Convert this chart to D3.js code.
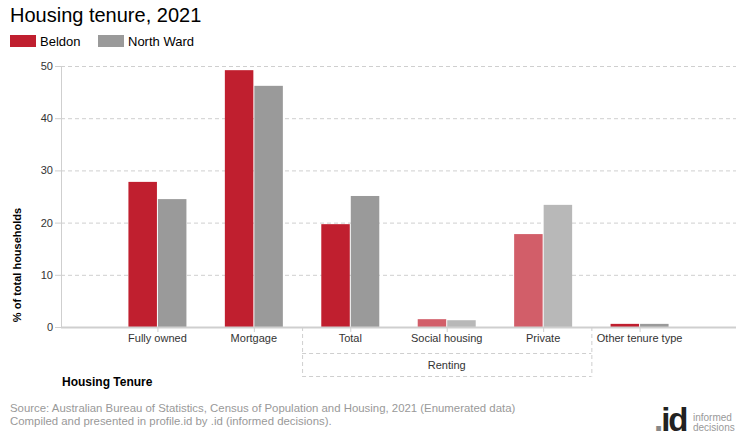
<!DOCTYPE html>
<html><head><meta charset="utf-8">
<script src="https://cdn.jsdelivr.net/npm/d3@7"></script>
<style>body{margin:0;background:#fff;font-family:Arial,"Liberation Sans",sans-serif;}</style>
</head><body>
<svg id="c" width="740" height="440"></svg>
<script>
const categories = ["Fully owned","Mortgage","Total","Social housing","Private","Other tenure type"];
const beldon = [27.8, 49.2, 19.7, 1.5, 17.8, 0.6];
const northWard = [24.5, 46.2, 25.1, 1.3, 23.4, 0.6];
const lighter = [false,false,false,true,true,false];
const yTicks = [0,10,20,30,40,50];
const groupLabel = "Renting";
const groupMembers = ["Total","Social housing","Private"];

const svg = d3.select("#c");
const font = "Arial, 'Liberation Sans', sans-serif";
const L = 61, R = 736, T = 66, B = 327;
const x = d3.scaleBand().domain(categories).range([L, R]).paddingInner(0).paddingOuter(0.5);
const y = d3.scaleLinear().domain([0,50]).range([B, T]);
const barW = 29;

// title
svg.append("text").attr("x",10).attr("y",22).attr("font-family",font).attr("font-size",20).attr("fill","#000").text("Housing tenure, 2021");
// legend
svg.append("rect").attr("x",10).attr("y",35).attr("width",26).attr("height",12).attr("fill","#c01f2f");
svg.append("text").attr("x",40).attr("y",46).attr("font-family",font).attr("font-size",13).attr("fill","#000").text("Beldon");
svg.append("rect").attr("x",98).attr("y",35).attr("width",26).attr("height",12).attr("fill","#9a9a9a");
svg.append("text").attr("x",128).attr("y",46).attr("font-family",font).attr("font-size",13).attr("fill","#000").text("North Ward");

// grid
svg.append("g").selectAll("line").data(yTicks.filter(d=>d>0)).join("line")
  .attr("x1",L).attr("x2",R).attr("y1",d=>y(d)+0.5).attr("y2",d=>y(d)+0.5)
  .attr("stroke","#cfcfcf").attr("stroke-dasharray","4,3");
// y ticks
svg.append("g").selectAll("line").data(yTicks).join("line")
  .attr("x1",L-6).attr("x2",L).attr("y1",d=>y(d)+0.5).attr("y2",d=>y(d)+0.5).attr("stroke","#cfcfcf");
svg.append("g").selectAll("text").data(yTicks).join("text")
  .attr("x",L-8).attr("y",d=>y(d)+4).attr("text-anchor","end").attr("font-family",font).attr("font-size",11).attr("fill","#333").text(d=>d);
// y axis line
svg.append("line").attr("x1",L+0.5).attr("x2",L+0.5).attr("y1",T).attr("y2",B).attr("stroke","#cfcfcf");

// bars
const g = svg.append("g");
categories.forEach((c,i)=>{
  const cx = x(c)+x.bandwidth()/2;
  g.append("rect").attr("x",cx-barW).attr("width",barW-0.5).attr("y",y(beldon[i])).attr("height",B-y(beldon[i]))
    .attr("fill", lighter[i] ? "#d25e69" : "#c01f2f");
  g.append("rect").attr("x",cx+0.5).attr("width",barW-0.5).attr("y",y(northWard[i])).attr("height",B-y(northWard[i]))
    .attr("fill", lighter[i] ? "#b8b8b8" : "#9a9a9a");
});

// x axis line
svg.append("line").attr("x1",L).attr("x2",R).attr("y1",B+0.5).attr("y2",B+0.5).attr("stroke","#cfcfcf").attr("stroke-width",2);
// x ticks at centers
svg.append("g").selectAll("line").data(categories).join("line")
  .attr("x1",d=>x(d)+x.bandwidth()/2+0.5).attr("x2",d=>x(d)+x.bandwidth()/2+0.5).attr("y1",B).attr("y2",B+5).attr("stroke","#cfcfcf");
svg.append("g").selectAll("text").data(categories).join("text")
  .attr("x",d=>x(d)+x.bandwidth()/2).attr("y",342).attr("text-anchor","middle").attr("font-family",font).attr("font-size",11).attr("fill","#333").text(d=>d);

// group box
const gx0 = x(groupMembers[0]), gx1 = x(groupMembers[groupMembers.length-1])+x.bandwidth();
const dash = {"stroke":"#cfcfcf","stroke-dasharray":"4,3"};
function dl(x1,y1,x2,y2){const l=svg.append("line").attr("x1",x1).attr("y1",y1).attr("x2",x2).attr("y2",y2).attr("fill","none");for(const k in dash) l.attr(k,dash[k]);}
dl(gx0+0.5,B,gx0+0.5,376.5);
dl(gx1+0.5,B,gx1+0.5,376.5);
dl(gx0,353.5,gx1,353.5);
dl(gx0,376.5,gx1,376.5);
svg.append("text").attr("x",(gx0+gx1)/2).attr("y",369).attr("text-anchor","middle").attr("font-family",font).attr("font-size",11).attr("fill","#333").text(groupLabel);

// axis titles
svg.append("text").attr("x",62).attr("y",386).attr("font-family",font).attr("font-size",12).attr("font-weight","bold").attr("fill","#000").text("Housing Tenure");
svg.append("text").attr("transform","translate(21,265) rotate(-90)").attr("text-anchor","middle").attr("font-family",font).attr("font-size",11).attr("font-weight","bold").attr("fill","#000").text("% of total households");

// footer
svg.append("text").attr("x",10).attr("y",412).attr("font-family",font).attr("font-size",11.4).attr("fill","#999").text("Source: Australian Bureau of Statistics, Census of Population and Housing, 2021 (Enumerated data)");
svg.append("text").attr("x",10).attr("y",425).attr("font-family",font).attr("font-size",11.4).attr("fill","#999").text("Compiled and presented in profile.id by .id (informed decisions).");
// logo
const logo = svg.append("text").attr("x",654).attr("y",431).attr("font-family",font).attr("font-size",33).attr("font-weight","bold").attr("letter-spacing","-2");
logo.append("tspan").attr("fill","#888").text(".");
logo.append("tspan").attr("fill","#222").text("id");
svg.append("text").attr("x",693).attr("y",421).attr("font-family",font).attr("font-size",10).attr("fill","#999").text("informed");
svg.append("text").attr("x",693).attr("y",431).attr("font-family",font).attr("font-size",10).attr("fill","#999").text("decisions");
</script>
</body></html>
